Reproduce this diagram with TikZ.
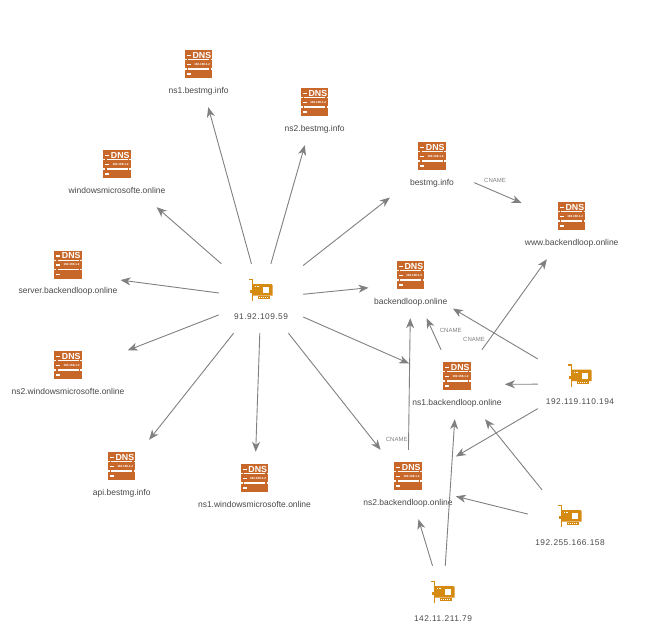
\documentclass[tikz,border=0pt]{standalone}
\usepackage{fontspec}
\setmainfont{Liberation Sans}
\newfontfamily\ipfont[LetterSpace=6]{Liberation Sans}
\usetikzlibrary{arrows.meta,positioning}
\definecolor{dnsorange}{HTML}{C8672A}
\definecolor{nicgold}{HTML}{D58A12}
\definecolor{edgegray}{HTML}{808080}
\definecolor{labeltext}{HTML}{484848}

\begin{document}
\begin{tikzpicture}[
      x=1pt,y=-1pt,
      host_box/.style={
         rectangle,
         yshift=-8.5pt,
         minimum width=84pt,
         inner xsep=3pt,
         inner ysep=12pt,
         text height=43pt,
         text depth=2pt,
         text=labeltext,
         font=\fontsize{8.5}{9}\selectfont},
      ip_box/.style={
         host_box,
         font=\ipfont\fontsize{8.3}{9}\selectfont},
      cname_label/.style={
         inner sep=0pt,
         text=edgegray,
         font=\fontsize{6}{7}\selectfont},
      arrow_gray/.style={
         -{Stealth[length=10pt,width=8pt,inset=3pt]},
         draw=edgegray,
         line width=0.9pt},
      dnsicon/.pic={
         \fill[dnsorange] (-13.7,-14) rectangle (13.7,14);
         % strips between the bands
         \fill[white] (-10.5,-5.2) rectangle (10.5,-3.9);
         \fill[white] (-10.5,4.3) rectangle (10.5,5.6);
         \foreach \yy in {-5.2,4.3} {
            \fill[white] (-13.7,\yy) rectangle (-12,\yy+1.3);
            \fill[white] (12,\yy) rectangle (13.7,\yy+1.3);
         }
         % dashes
         \foreach \yy in {-9.5,-0.5,9} \fill[white] (-11.7,\yy) rectangle (-8,\yy+1.6);
         \node[inner sep=0pt,text=white,font=\fontsize{8.8}{9}\bfseries\selectfont] (-txt) at (3.2,-9) {DNS};
         \node[inner sep=0pt,text=white,font=\fontsize{3}{3}\bfseries\selectfont] (-addr) at (3.5,0.2) {192.168.1.2};
      },
      nicicon/.pic={
         % bracket
         \fill[nicgold] (-12,-11.3) rectangle (-8,-10);
         \fill[nicgold] (-9.3,-11.3) rectangle (-8,11);
         \fill[nicgold] (-11.3,0) rectangle (-9,3.2);
         % board
         \fill[nicgold] (-8,-6) -- (10.5,-6) -- (11.7,-4.8) -- (11.7,5.5) -- (-8,5.5) -- cycle;
         \fill[nicgold] (-3.5,5.5) rectangle (8.5,8.8);
         \fill[white] (1.5,-3) rectangle (8.3,3);
         \foreach \xx in {-6.5,-4} \fill[white] (\xx,-4) rectangle (\xx+1.5,-2.8);
         \foreach \xx in {-2.5,-0.5,1.5,3.5,5.5} \fill[white] (\xx,6.6) rectangle (\xx+0.9,7.8);
      }
]
      \useasboundingbox (0,0) rectangle (654,643);

      %dns records
      \foreach \n/\x/\y/\txt in {
        v1/198.7/64/ns1.bestmg.info,
        v2/314.7/102/ns2.bestmg.info,
        v3/117/164/windowsmicrosofte.online,
        v4/68/264.7/server.backendloop.online,
        v5/68/365/ns2.windowsmicrosofte.online,
        v6/121.7/466/api.bestmg.info,
        v7/254.5/478/ns1.windowsmicrosofte.online,
        v8/432/156/bestmg.info,
        v9/571.7/216/www.backendloop.online,
        v10/410.7/275/backendloop.online,
        v11/457/376/ns1.backendloop.online,
        v12/408/476/ns2.backendloop.online} {
        \node[host_box] (\n) at (\x,\y) {\txt};
        \pic (\n icon) at (\x,\y) {dnsicon};
      }

      %addresses
      \foreach \n/\x/\y/\txt in {
        h1/261/290/91.92.109.59,
        h2/580/375.5/192.119.110.194,
        h3/570/516/192.255.166.158,
        h4/443/592/142.11.211.79} {
        \node[ip_box] (\n) at (\x,\y) {\txt};
        \pic at (\x,\y) {nicicon};
      }

    \foreach \i/\j in {% start node/end node
      h1/v1,h1/v2,h1/v3,h1/v4,h1/v5,h1/v6,h1/v7,h1/v8,h1/v10,h1/v11,h1/v12,
      h2/v10,h2/v11,h2/v12,
      h3/v11,h3/v12,
      h4/v11,h4/v12}
      \draw [arrow_gray] (\i) -- (\j);

    \foreach \i/\j/\lx/\ly in {% start node/end node/label position
      v8/v9/495/180,
      v12/v10/396.7/439,
      v11/v10/450.7/330,
      v11/v9/474/339.3} {
      \draw [arrow_gray] (\i) -- (\j);
      \node[cname_label] (\i\j txt) at (\lx,\ly) {CNAME};
    }
\end{tikzpicture}
\end{document}
